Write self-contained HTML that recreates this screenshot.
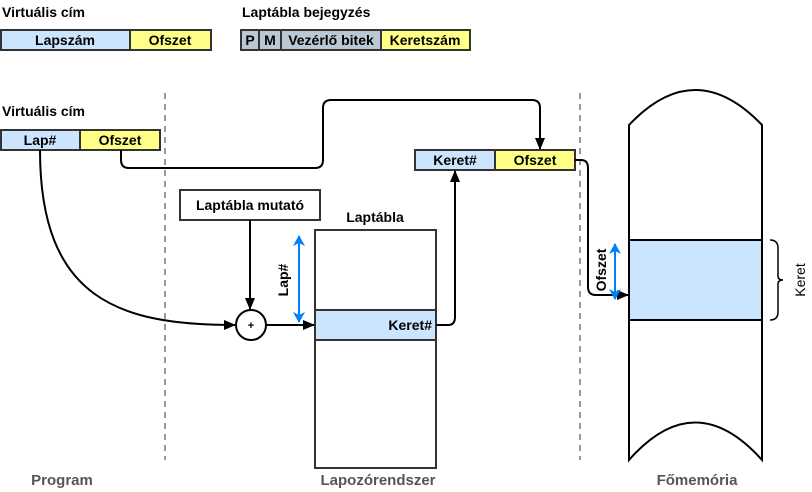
<!DOCTYPE html>
<html><head><style>body{margin:0;background:#fff}svg{display:block}text{font-family:"Liberation Sans",sans-serif;font-size:14px;font-weight:bold}</style></head><body>
<svg width="812" height="492" viewBox="0 0 812 492">
<defs><marker id="a" markerWidth="12" markerHeight="12" refX="11" refY="6" orient="auto" markerUnits="userSpaceOnUse"><path d="M0,1L12,6L0,11z" fill="#000"/></marker>
<marker id="b" markerWidth="12" markerHeight="12" refX="10" refY="6" orient="auto-start-reverse" markerUnits="userSpaceOnUse"><path d="M0,0L11,6L0,12L3,6z" fill="#007fff"/></marker></defs>
<g stroke="#999" stroke-width="2" stroke-dasharray="6,5"><line x1="165" y1="93" x2="165" y2="460"/><line x1="580" y1="93" x2="580" y2="460"/></g>
<text x="2" y="17">Virtuális cím</text><text x="242" y="17">Laptábla bejegyzés</text><text x="2" y="116">Virtuális cím</text>
<g stroke="#333" stroke-width="2">
<rect x="1" y="30" width="129" height="20" fill="#cce5ff"/><rect x="130" y="30" width="81" height="20" fill="#ffff88"/>
<rect x="241" y="30" width="18" height="20" fill="#bac8d3"/><rect x="259" y="30" width="22" height="20" fill="#bac8d3"/><rect x="281" y="30" width="100" height="20" fill="#bac8d3"/><rect x="381" y="30" width="89" height="20" fill="#ffff88"/>
<rect x="1" y="130" width="79" height="20" fill="#cce5ff"/><rect x="80" y="130" width="80" height="20" fill="#ffff88"/>
<rect x="415" y="150" width="80" height="20" fill="#cce5ff"/><rect x="495" y="150" width="80" height="20" fill="#ffff88"/>
<rect x="180" y="190" width="140" height="30" fill="#fff"/>
<rect x="315" y="230" width="121" height="238" fill="#fff"/><rect x="315" y="310" width="121" height="30" fill="#cce5ff"/>
</g>
<g text-anchor="middle"><text x="65" y="45">Lapszám</text><text x="170" y="45">Ofszet</text><text x="250" y="45">P</text><text x="270" y="45">M</text><text x="331" y="45">Vezérlő bitek</text><text x="425" y="45">Keretszám</text>
<text x="40" y="145">Lap#</text><text x="120" y="145">Ofszet</text><text x="455" y="165">Keret#</text><text x="535" y="165">Ofszet</text>
<text x="250" y="210">Laptábla mutató</text><text x="375" y="222">Laptábla</text></g>
<text x="432" y="330" text-anchor="end">Keret#</text>
<path d="M629,125Q695,55 762,125L762,460Q695,385 629,460Z" fill="#fff" stroke="#000" stroke-width="2"/>
<rect x="629" y="240" width="133" height="80" fill="#cce5ff" stroke="#000" stroke-width="2"/>
<path d="M770,240q8,0 8,8v28q0,4 5,4q-5,0 -5,4v28q0,8 -8,8" fill="none" stroke="#000" stroke-width="1.5"/>
<text x="0" y="0" transform="translate(805,280) rotate(-90)" text-anchor="middle" style="font-weight:normal">Keret</text>
<circle cx="251" cy="325" r="15" fill="#fff" stroke="#000" stroke-width="2"/><text x="251" y="329" text-anchor="middle" style="font-size:11px">+</text>
<g fill="none" stroke="#000" stroke-width="2">
<path d="M250,220V309" marker-end="url(#a)"/>
<path d="M40,150C40,300 120,325 235,325" marker-end="url(#a)"/>
<path d="M266,325H314" marker-end="url(#a)"/>
<path d="M436,325h12q7,0 7,-8V171" marker-end="url(#a)"/>
<path d="M121,150v10q0,8 8,8H315q8,0 8,-8V108q0,-8 8,-8H532q8,0 8,8V149" marker-end="url(#a)"/>
<path d="M575,160h6q7,0 7,8V287q0,8 8,8H628" marker-end="url(#a)"/>
</g>
<g stroke="#007fff" stroke-width="2"><line x1="299" y1="236" x2="299" y2="322" marker-start="url(#b)" marker-end="url(#b)"/><line x1="615" y1="244" x2="615" y2="299" marker-start="url(#b)" marker-end="url(#b)"/></g>
<text transform="translate(288,280) rotate(-90)" text-anchor="middle">Lap#</text>
<text transform="translate(606,270) rotate(-90)" text-anchor="middle">Ofszet</text>
<g text-anchor="middle" fill="#555"><text x="62" y="485" style="font-size:15px">Program</text><text x="378" y="485" style="font-size:15px">Lapozórendszer</text><text x="697" y="485" style="font-size:15px">Főmemória</text></g>
</svg></body></html>
